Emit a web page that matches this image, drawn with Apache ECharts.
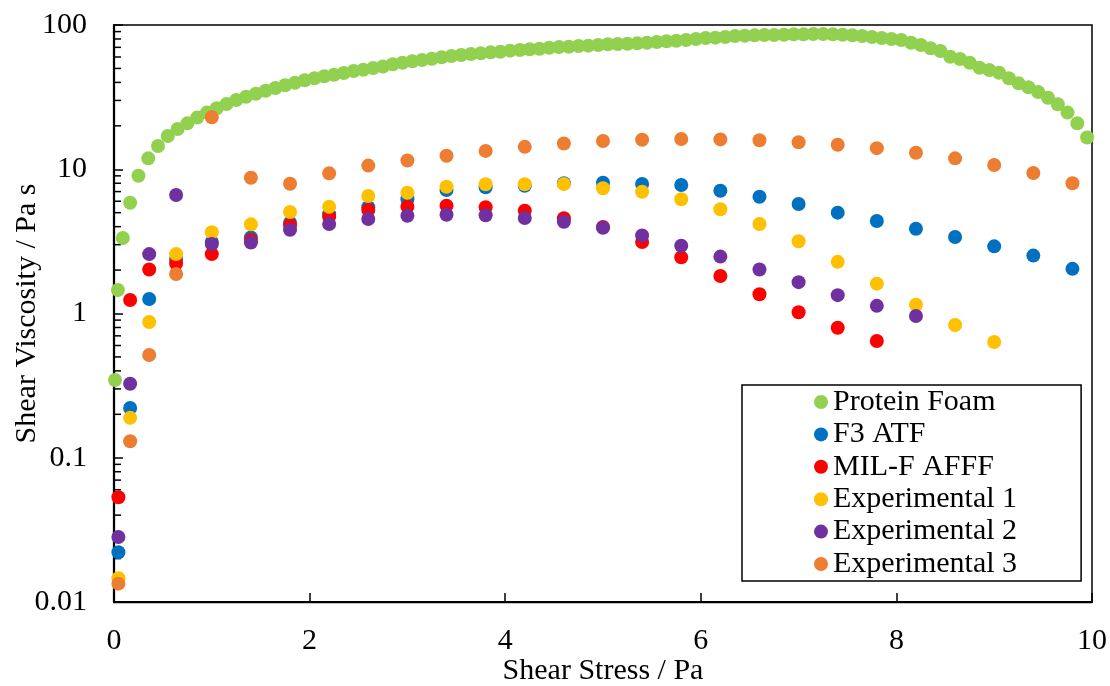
<!DOCTYPE html>
<html>
<head>
<meta charset="utf-8">
<script src="https://cdn.jsdelivr.net/npm/echarts@6/dist/echarts.min.js"></script>
<style>
  html, body { margin: 0; padding: 0; background: #fff; }
  #chart { width: 1110px; height: 686px; }
</style>
</head>
<body>
<div id="chart"></div>
<script>
// ---- Data ----
var seriesNames = ['Protein Foam', 'F3 ATF', 'MIL-F AFFF', 'Experimental 1', 'Experimental 2', 'Experimental 3'];
var seriesColors = ['#92D050', '#0070C0', '#FF0000', '#FFC000', '#7030A0', '#ED7D31'];

var foamX = [0.01, 0.04, 0.09, 0.165,
  0.25, 0.35, 0.45, 0.55, 0.65, 0.75, 0.85, 0.95, 1.05, 1.15, 1.25, 1.35, 1.45, 1.55, 1.65, 1.75, 1.85, 1.95,
  2.05, 2.15, 2.25, 2.35, 2.45, 2.55, 2.65, 2.75, 2.85, 2.95, 3.05, 3.15, 3.25, 3.35, 3.45, 3.55, 3.65, 3.75,
  3.85, 3.95, 4.05, 4.15, 4.25, 4.35, 4.45, 4.55, 4.65, 4.75, 4.85, 4.95, 5.05, 5.15, 5.25, 5.35, 5.45, 5.55,
  5.65, 5.75, 5.85, 5.95, 6.05, 6.15, 6.25, 6.35, 6.45, 6.55, 6.65, 6.75, 6.85, 6.95, 7.05, 7.15, 7.25, 7.35,
  7.45, 7.55, 7.65, 7.75, 7.85, 7.95, 8.05, 8.15, 8.25, 8.35, 8.45, 8.55, 8.65, 8.75, 8.85, 8.95, 9.05, 9.15,
  9.25, 9.35, 9.45, 9.55, 9.65, 9.75, 9.85, 9.95];
var foamY = [0.346, 1.455, 3.34, 5.86,
  9.02, 11.9, 14.5, 17.0, 19.0, 20.8, 22.8, 24.7, 26.5, 28.3, 30.2, 31.8, 33.4, 35.0, 36.6, 38.2, 39.8, 41.4,
  42.7, 44.1, 45.2, 46.5, 48.0, 49.0, 50.3, 51.6, 53.4, 54.8, 56.0, 57.2, 58.4, 59.7, 61.0, 61.9, 62.9, 63.6,
  64.6, 65.3, 66.4, 67.1, 67.9, 68.5, 69.6, 70.4, 70.7, 71.5, 71.9, 72.7, 73.5, 73.8, 74.2, 74.6, 75.4, 76.2,
  77.1, 77.8, 78.7, 80.0, 81.3, 81.7, 82.5, 83.9, 84.3, 84.8, 85.2, 85.2, 85.6, 86.2, 86.2, 86.6, 86.6, 86.2,
  85.6, 84.8, 83.9, 82.5, 81.3, 80.0, 78.7, 75.4, 72.7, 69.0, 66.1, 60.3, 58.1, 54.8, 50.6, 48.8, 46.7, 42.7,
  39.4, 37.0, 34.3, 31.3, 28.2, 24.7, 20.8, 16.6];

// Shared shear-stress steps of the other five samples
var stressX = [0.045, 0.165, 0.36, 0.635, 1.0, 1.4, 1.8, 2.2, 2.6, 3.0, 3.4, 3.8, 4.2, 4.6, 5.0, 5.4, 5.8,
  6.2, 6.6, 7.0, 7.4, 7.8, 8.2, 8.6, 9.0, 9.4, 9.8];

var f3atfY = [0.0221, 0.221, 1.26, 2.39, 3.13, 3.37, 4.26, 4.87, 5.45, 6.19, 7.18, 7.50, 7.69, 7.99, 8.07, 7.90,
  7.78, 7.10, 6.45, 5.74, 5.00, 4.38, 3.87, 3.39, 2.92, 2.52, 2.04];
var milfY = [0.0532, 1.24, 2.02, 2.22, 2.58, 3.23, 4.11, 4.69, 5.22, 5.50, 5.59, 5.45, 5.16, 4.57, 3.98, 3.13,
  2.45, 1.82, 1.36, 1.02, 0.797, 0.645];
var exp1Y = [0.0146, 0.189, 0.873, 2.58, 3.66, 4.15, 5.05, 5.50, 6.53, 6.88, 7.57, 7.87, 7.87, 7.90, 7.38, 6.99,
  6.19, 5.28, 4.17, 3.17, 2.28, 1.61, 1.15, 0.832, 0.634];
var exp2Y = [0.0282, 0.326, 2.58, 6.63, 3.03, 3.10, 3.81, 4.17, 4.52, 4.76, 4.84, 4.80, 4.59, 4.33, 3.93, 3.48,
  2.95, 2.48, 2.02, 1.65, 1.34, 1.13, 0.961];
var exp3Y = [0.0134, 0.130, 0.516, 1.88, 22.9, 8.74, 7.94, 9.37, 10.6, 11.5, 12.4, 13.4, 14.3, 15.1, 15.7, 16.0,
  16.2, 16.1, 15.9, 15.4, 14.8, 14.0, 13.0, 11.9, 10.7, 9.42, 7.99];

var xTicks = {min: 0, max: 10, interval: 2};
var yTicks = {min: 0.01, max: 100};

// ---- Build ----
function pairs(xs, ys) {
  var out = [];
  for (var i = 0; i < ys.length; i++) out.push([xs[i], ys[i]]);
  return out;
}
var allY = [foamY, f3atfY, milfY, exp1Y, exp2Y, exp3Y];
var allX = [foamX, stressX, stressX, stressX, stressX, stressX];

// minor log ticks (2..9 of each decade) on the value axis
var minorTickVals = [];
for (var d = yTicks.min; d < yTicks.max * 0.999; d *= 10) {
  for (var m = 2; m <= 9; m++) minorTickVals.push([0, +(d * m).toPrecision(3)]);
}

var FONT = 'Liberation Serif';
var series = seriesNames.map(function (name, i) {
  return {
    name: name,
    type: 'scatter',
    data: pairs(allX[i], allY[i]),
    symbol: 'circle',
    symbolSize: 14,
    clip: false,
    itemStyle: {color: seriesColors[i], opacity: 1},
    emphasis: {disabled: true},
    z: 3
  };
});
series.push({
  name: 'minorTicks',
  type: 'custom',
  data: minorTickVals,
  silent: true,
  clip: false,
  z: 2,
  encode: {x: 0, y: 1},
  renderItem: function (params, api) {
    var p = api.coord([0, api.value(1)]);
    return {
      type: 'line',
      shape: {x1: p[0], y1: p[1], x2: p[0] + 7, y2: p[1]},
      style: {stroke: '#000', lineWidth: 1.5}
    };
  }
});

var chart = echarts.init(document.getElementById('chart'), null, {renderer: 'canvas'});
chart.setOption({
  animation: false,
  backgroundColor: '#fff',
  grid: {
    left: 114, top: 25, right: 18, bottom: 84,
    containLabel: false,
    outerBoundsMode: 'none',
    show: true, borderColor: '#000', borderWidth: 1.5, backgroundColor: 'transparent'
  },
  legend: {
    data: seriesNames,
    orient: 'vertical',
    left: 742,
    top: 385,
    icon: 'circle',
    itemWidth: 14,
    itemHeight: 14,
    itemGap: 0.4,
    padding: [1, 64, 1, 72],
    borderColor: '#000',
    borderWidth: 1.5,
    backgroundColor: '#fff',
    selectedMode: false,
    textStyle: {fontFamily: FONT, fontSize: 30, color: '#000', lineHeight: 32}
  },
  xAxis: {
    type: 'value',
    min: xTicks.min, max: xTicks.max, interval: xTicks.interval,
    name: 'Shear Stress / Pa',
    nameLocation: 'middle',
    nameGap: 54,
    nameMoveOverlap: false,
    nameTextStyle: {fontFamily: FONT, fontSize: 30, color: '#000'},
    axisLine: {show: true, onZero: false, lineStyle: {color: '#000', width: 2.25}},
    axisTick: {show: true, inside: true, length: 9, lineStyle: {color: '#000', width: 1.5}},
    axisLabel: {fontFamily: FONT, fontSize: 30, color: '#000', margin: 24},
    splitLine: {show: false}
  },
  yAxis: {
    type: 'log',
    logBase: 10,
    min: yTicks.min, max: yTicks.max,
    name: 'Shear Viscosity / Pa s',
    nameLocation: 'middle',
    nameGap: 72,
    nameMoveOverlap: false,
    nameTextStyle: {fontFamily: FONT, fontSize: 30, color: '#000'},
    axisLine: {show: true, onZero: false, lineStyle: {color: '#000', width: 2.25}},
    axisTick: {show: true, inside: true, length: 9, lineStyle: {color: '#000', width: 1.5}},
    axisLabel: {
      fontFamily: FONT, fontSize: 30, color: '#000', margin: 27,
      formatter: function (v) { return String(+v.toPrecision(3)); }
    },
    splitLine: {show: false},
    minorTick: {show: false}
  },
  series: series
});
</script>
</body>
</html>
